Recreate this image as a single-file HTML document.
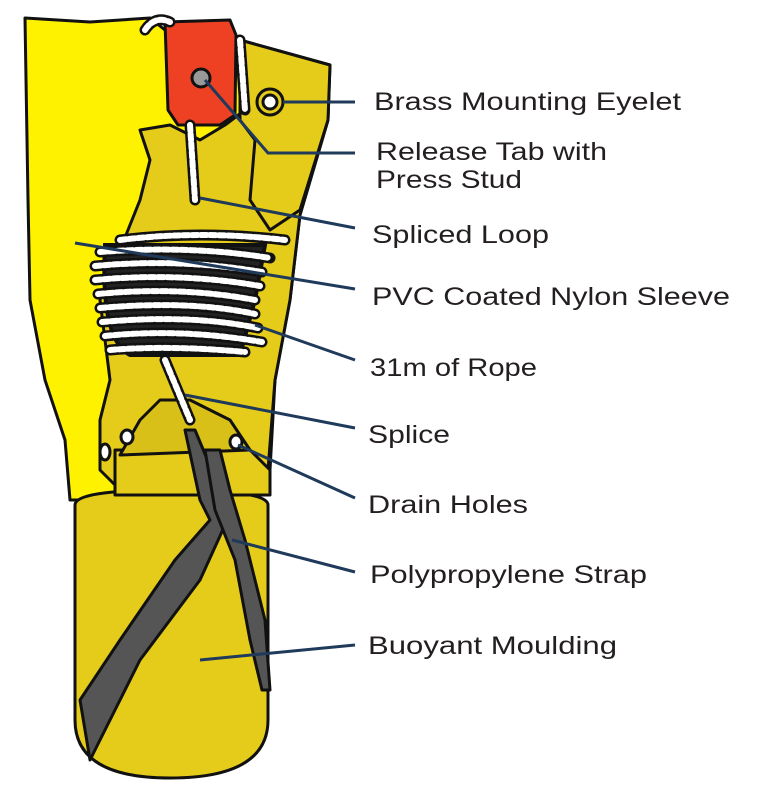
<!DOCTYPE html>
<html><head><meta charset="utf-8"><style>
html,body{margin:0;padding:0;background:#fff;width:759px;height:790px;overflow:hidden}
svg{display:block}
text{font-family:"Liberation Sans",sans-serif;font-size:25px;fill:#231f20}
</style></head><body>
<svg width="759" height="790" viewBox="0 0 759 790" xmlns="http://www.w3.org/2000/svg">
<g stroke="#111" stroke-width="3" stroke-linejoin="round">
<path d="M25 18 L90 22 L150 18 L165 30 L240 40 L330 65 L328 120 L300 215 L290 300 L275 380 L270 470 L250 500 L110 500 L70 500 L65 440 L45 380 L30 300 L28 200 Z" fill="#FFF200"/>
<path d="M140 130 L170 125 L200 140 L225 125 L245 110 L270 110 L300 100 L328 80 L328 120 L300 215 L290 300 L275 380 L268 470 L240 490 L120 490 L100 470 L100 420 L110 380 L100 300 L120 250 L140 200 L150 160 Z" fill="#E6CC1A"/>
<path d="M240 40 L330 65 L328 120 L300 210 L270 230 L250 200 L255 140 L240 120 Z" fill="#E6CC1A"/>
<path d="M75 505 Q75 490 170 490 Q268 490 268 505 L268 720 Q268 778 170 778 Q75 778 75 720 Z" fill="#E6CC1A"/>
<path d="M115 450 L115 495 L270 495 L270 470 L250 450 Z" fill="#E6CC1A"/>
<path d="M140 420 L160 400 L190 400 L230 420 L250 450 L120 455 Z" fill="#D9C018"/>
<path d="M185 430 L200 500 L210 520 L175 560 L120 640 L80 700 L90 760 L100 740 L140 660 L200 580 L225 525 L220 490 L195 430 Z" fill="#555"/>
<path d="M205 450 L215 510 L235 560 L250 640 L262 690 L270 690 L265 620 L245 540 L230 490 L220 450 Z" fill="#555"/>
<path d="M165 22 L230 20 L236 35 L235 115 L220 125 L178 125 L168 110 Z" fill="#EE4023"/>
<circle cx="201" cy="78" r="9" fill="#999"/>
<circle cx="270" cy="102" r="13" fill="#E6CC1A"/>
<circle cx="270" cy="102" r="7" fill="#fff"/>
<ellipse cx="236" cy="442" rx="6" ry="7" fill="#fff"/>
<ellipse cx="127" cy="437" rx="6" ry="7" fill="#fff"/>
<ellipse cx="105" cy="452" rx="5" ry="8" fill="#fff"/>
</g>
<g id="rope" fill="none" stroke-linecap="round">
<path d="M105 245 Q100 340 130 355 L240 355 L255 300 L265 245 Z" fill="#222" stroke="#111" stroke-width="4"/>
</g>
<g fill="none" stroke="#111" stroke-width="11" stroke-linecap="round">
<path d="M190 125 L195 200 M120 240 Q200 230 285 240 M100 252 Q190 245 270 258 M95 266 Q180 258 262 272 M95 280 Q180 272 260 286 M98 294 Q180 286 255 300 M100 308 Q190 300 255 314 M102 322 Q190 314 258 328 M105 336 Q180 328 262 342 M110 350 Q170 345 245 352 M165 360 L190 420 M145 30 Q155 15 170 22 M240 40 L245 110"/>
</g>
<g fill="none" stroke="#fff" stroke-width="6" stroke-linecap="round" stroke-dasharray="6 3">
<path d="M190 125 L195 200 M120 240 Q200 230 285 240 M100 252 Q190 245 270 258 M95 266 Q180 258 262 272 M95 280 Q180 272 260 286 M98 294 Q180 286 255 300 M100 308 Q190 300 255 314 M102 322 Q190 314 258 328 M105 336 Q180 328 262 342 M110 350 Q170 345 245 352 M165 360 L190 420 M145 30 Q155 15 170 22 M240 40 L245 110"/>
</g>
<g stroke="#1f3a5a" stroke-width="3" fill="none">
<path d="M283 102 H355"/>
<path d="M205 80 L268 153 H355"/>
<path d="M200 198 L355 228"/>
<path d="M75 243 L355 289"/>
<path d="M255 325 L355 360"/>
<path d="M185 395 L355 428"/>
<path d="M238 445 L355 498"/>
<path d="M232 540 L355 572"/>
<path d="M200 660 L355 645"/>
</g>
<text x="374" y="110" textLength="307" lengthAdjust="spacingAndGlyphs">Brass Mounting Eyelet</text>
<text x="376" y="160" textLength="231" lengthAdjust="spacingAndGlyphs">Release Tab with</text>
<text x="376" y="188" textLength="146" lengthAdjust="spacingAndGlyphs">Press Stud</text>
<text x="372" y="243" textLength="177" lengthAdjust="spacingAndGlyphs">Spliced Loop</text>
<text x="372" y="305" textLength="358" lengthAdjust="spacingAndGlyphs">PVC Coated Nylon Sleeve</text>
<text x="370" y="376" textLength="167" lengthAdjust="spacingAndGlyphs">31m of Rope</text>
<text x="368" y="443" textLength="82" lengthAdjust="spacingAndGlyphs">Splice</text>
<text x="368" y="513" textLength="160" lengthAdjust="spacingAndGlyphs">Drain Holes</text>
<text x="370" y="583" textLength="277" lengthAdjust="spacingAndGlyphs">Polypropylene Strap</text>
<text x="368" y="654" textLength="249" lengthAdjust="spacingAndGlyphs">Buoyant Moulding</text>
</svg>
</body></html>
